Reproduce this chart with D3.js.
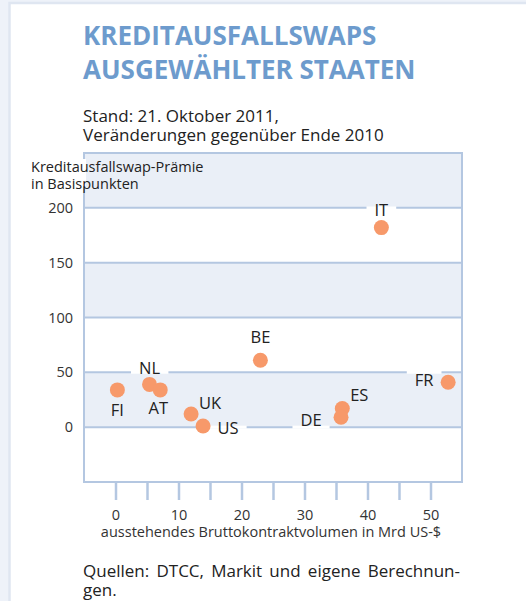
<!DOCTYPE html>
<html>
<head>
<meta charset="utf-8">
<script src="https://cdn.jsdelivr.net/npm/d3@7/dist/d3.min.js"></script>
<style>
  html, body { margin: 0; padding: 0; background: #eef2f9; }
  svg { display: block; }
  text { font-family: "Open Sans", "Noto Sans", sans-serif; }
</style>
</head>
<body>
<svg id="chart" width="526" height="601"></svg>
<script>
// Countries: gross notional outstanding (bn US-$) vs. CDS premium change (bp)
const countries = ["IT", "BE", "FR", "ES", "DE", "FI", "NL", "AT", "UK", "US"];
const volume    = [42.2, 23.0, 52.8, 36.0, 35.8, 0.3, 5.4, 7.1, 12.0, 13.9];
const premium   = [182, 61, 41, 17, 9, 34, 39, 34, 12, 1];

const xTicks = [0, 5, 10, 15, 20, 25, 30, 35, 40, 45, 50];
const xTickLabels = [0, 10, 20, 30, 40, 50];
const yTicks = [0, 50, 100, 150, 200];

const titleLines = ["KREDITAUSFALLSWAPS", "AUSGEWÄHLTER STAATEN"];
const subtitleLines = ["Stand: 21. Oktober 2011,", "Veränderungen gegenüber Ende 2010"];
const yTitleLines = ["Kreditausfallswap-Prämie", "in Basispunkten"];
const xTitle = "ausstehendes Bruttokontraktvolumen in Mrd US-$";
const sourceLines = ["Quellen: DTCC, Markit und eigene Berechnun-", "gen."];

// label placement relative to each dot (px)
const labelOffset = {
  IT: [0, -17], BE: [0, -23], FR: [-24, -2], ES: [17, -13], DE: [-30, 3],
  FI: [0, 20], NL: [0, -16], AT: [-2, 18], UK: [19, -11], US: [25, 2]
};

const blue = "#6d9bcd", line = "#b4c7e1", band = "#eaeff7", dot = "#f7996a", ink = "#222";

const svg = d3.select("#chart");

// page panel
svg.append("rect").attr("x", 0).attr("y", 0).attr("width", 526).attr("height", 601).attr("fill", "#eef2f9");
svg.append("rect").attr("x", 9.5).attr("y", 3).attr("width", 540).attr("height", 620)
  .attr("fill", "#fff").attr("stroke", "#dfe6f1").attr("stroke-width", 2.5);

// title
svg.append("g").selectAll("text").data(titleLines).join("text")
  .attr("x", 83).attr("y", (d, i) => 45 + i * 34)
  .attr("fill", blue).attr("font-size", 26).attr("font-weight", 700).text(d => d);

// subtitle
svg.append("g").selectAll("text").data(subtitleLines).join("text")
  .attr("x", 83).attr("y", (d, i) => 122 + i * 19)
  .attr("fill", ink).attr("font-size", 17).text(d => d);

const plotL = 84, plotR = 462, plotT = 153, plotB = 482;
const x = d3.scaleLinear().domain([-5, 55]).range([plotL, plotR]);
const y = d3.scaleLinear().domain([-50, 250]).range([plotB, plotT]);

// alternating bands
const bands = d3.range(-50, 250, 50).filter(v => ((v / 50) % 2 + 2) % 2 === 0);
svg.append("g").selectAll("rect").data(bands).join("rect")
  .attr("x", plotL).attr("width", plotR - plotL)
  .attr("y", d => y(d + 50)).attr("height", d => y(d) - y(d + 50))
  .attr("fill", band);

// gridlines
svg.append("g").selectAll("line").data(yTicks).join("line")
  .attr("x1", plotL).attr("x2", plotR).attr("y1", d => y(d)).attr("y2", d => y(d))
  .attr("stroke", line).attr("stroke-width", 2);

// y tick labels
svg.append("g").selectAll("text").data(yTicks).join("text")
  .attr("x", 73).attr("y", d => y(d)).attr("dy", "0.35em").attr("text-anchor", "end")
  .attr("fill", "#333").attr("font-size", 14.5).text(d => d);

// x axis ticks
const xAxis = d3.axisBottom(x).tickValues(xTicks).tickSize(18).tickFormat(d => xTickLabels.includes(d) ? d : "");
const gx = svg.append("g").attr("transform", `translate(0,${plotB})`).call(xAxis);
gx.select(".domain").remove();
gx.selectAll(".tick line").attr("stroke", line).attr("stroke-width", 2.5);
gx.selectAll(".tick text").attr("y", 28).attr("fill", "#333").attr("font-size", 14.5)
  .attr("font-family", "'Open Sans', 'Noto Sans', sans-serif");

// x title
svg.append("text").attr("x", 271).attr("y", 537).attr("text-anchor", "middle")
  .attr("fill", "#333").attr("font-size", 14.5).text(xTitle);

// plot frame
svg.append("rect").attr("x", plotL).attr("y", plotT).attr("width", plotR - plotL).attr("height", plotB - plotT)
  .attr("fill", "none").attr("stroke", line).attr("stroke-width", 2);

// y title (masks frame edge behind it)
const yTitle = svg.append("g");
yTitle.append("rect").attr("fill", "#fff")
  .attr("x", plotL - 2).attr("width", 4).attr("y", 159).attr("height", 27);
yTitle.selectAll("text").data(yTitleLines).join("text")
  .attr("x", 31).attr("y", (d, i) => 172 + i * 17)
  .attr("fill", ink).attr("font-size", 14.5).text(d => d);

const data = countries.map((c, i) => ({ c, v: volume[i], p: premium[i] }));

// labels with white knock-out on gridlines
const lab = svg.append("g");
data.forEach(d => {
  const [dx, dy] = labelOffset[d.c];
  const cx = x(d.v) + dx, cy = y(d.p) + dy;
  const g = lab.append("g");
  const t = g.append("text").attr("x", cx).attr("y", cy).attr("dy", "0.35em")
    .attr("text-anchor", "middle").attr("fill", ink).attr("font-size", 16.5).text(d.c);
  const bb = t.node().getBBox();
  yTicks.forEach(v => {
    const gy = y(v);
    if (gy >= bb.y - 1 && gy <= bb.y + bb.height + 1) {
      g.insert("rect", "text").attr("x", bb.x - 8).attr("width", bb.width + 16)
        .attr("y", gy - 1.5).attr("height", 3).attr("fill", "#fff");
    }
  });
});

// dots
svg.append("g").selectAll("circle").data(data).join("circle")
  .attr("cx", d => x(d.v)).attr("cy", d => y(d.p)).attr("r", 7.5).attr("fill", dot);

// source note, justified to the plot width
const src = svg.append("g");
sourceLines.forEach((s, i) => {
  const t = src.append("text").attr("x", 83).attr("y", 577 + i * 19)
    .attr("fill", ink).attr("font-size", 17).text(s);
  if (i === 0) {
    const w = t.node().getComputedTextLength();
    const gaps = s.split(" ").length - 1;
    t.attr("word-spacing", (460 - 83 - w) / gaps);
  }
});
</script>
</body>
</html>
